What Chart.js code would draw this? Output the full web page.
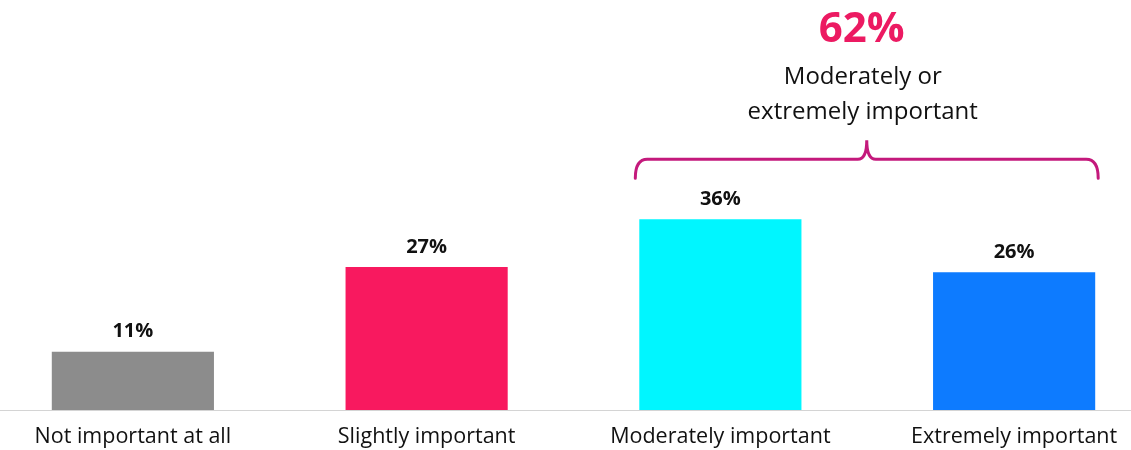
<!DOCTYPE html>
<html>
<head>
<meta charset="utf-8">
<script src="https://cdn.jsdelivr.net/npm/chart.js@4"></script>
<style>
  html, body { margin: 0; padding: 0; background: #ffffff; }
  #wrap { position: relative; width: 1131px; height: 450px; overflow: hidden; background: #fff; }
  #box { position: absolute; left: -14px; top: 0; width: 1175px; height: 450px; }
</style>
</head>
<body>
<div id="wrap"><div id="box"><canvas id="c"></canvas></div></div>
<script>
const categories = ["Not important at all", "Slightly important", "Moderately important", "Extremely important"];
const values = [11, 27, 36, 26];
const barColors = ["#8c8c8c", "#f8195f", "#00f6ff", "#0d7bff"];
const bracketTotal = "62%";
const bracketCaption = ["Moderately or", "extremely important"];
const bracketBars = [2, 3];

const valueLabels = {
  id: 'valueLabels',
  afterDatasetsDraw(chart) {
    const ctx = chart.ctx;
    const meta = chart.getDatasetMeta(0);
    ctx.save();
    ctx.font = "bold 20px 'Open Sans'";
    ctx.fillStyle = "#111111";
    ctx.textAlign = "center";
    ctx.textBaseline = "middle";
    meta.data.forEach((bar, i) => {
      ctx.fillText(values[i] + "%", bar.x, bar.y - 20);
    });
    ctx.restore();
  }
};

const bracket = {
  id: 'bracket',
  afterDatasetsDraw(chart) {
    const ctx = chart.ctx;
    const meta = chart.getDatasetMeta(0);
    const a = meta.data[bracketBars[0]], b = meta.data[bracketBars[1]];
    const left = a.x - a.width / 2 - 4;
    const right = b.x + b.width / 2 + 3;
    const topBar = Math.min(a.y, b.y);
    const yEnd = topBar - 41, yH = topBar - 60, yTip = topBar - 79;
    const mid = (left + right) / 2;
    const r = 12;
    ctx.save();
    ctx.strokeStyle = "#c4197c";
    ctx.lineWidth = 3;
    ctx.lineCap = "round";
    ctx.beginPath();
    ctx.moveTo(left, yEnd);
    ctx.quadraticCurveTo(left, yH, left + r, yH);
    ctx.lineTo(mid - 9, yH);
    ctx.quadraticCurveTo(mid, yH, mid, yTip);
    ctx.quadraticCurveTo(mid, yH, mid + 9, yH);
    ctx.lineTo(right - r, yH);
    ctx.quadraticCurveTo(right, yH, right, yEnd);
    ctx.stroke();

    ctx.textAlign = "center";
    ctx.textBaseline = "middle";
    ctx.fillStyle = "#ec1a62";
    ctx.font = "bold 42px 'Open Sans'";
    ctx.fillText(bracketTotal, mid - 5, topBar - 189);
    ctx.fillStyle = "#111111";
    ctx.font = "24px 'Open Sans'";
    ctx.fillText(bracketCaption[0], mid - 4, topBar - 142);
    ctx.fillText(bracketCaption[1], mid - 4, topBar - 107);
    ctx.restore();
  }
};

new Chart(document.getElementById('c'), {
  type: 'bar',
  data: {
    labels: categories,
    datasets: [{
      data: values,
      backgroundColor: barColors,
      borderWidth: 0,
      barPercentage: 0.552,
      categoryPercentage: 1
    }]
  },
  options: {
    responsive: true,
    maintainAspectRatio: false,
    animation: false,
    layout: { padding: { top: 39, bottom: 0, left: 0, right: 0 } },
    plugins: { legend: { display: false }, tooltip: { enabled: false } },
    scales: {
      x: {
        grid: { display: false, drawTicks: false },
        border: { display: true, color: "#d4d4d4", width: 1 },
        ticks: { color: "#111111", font: { family: "'Open Sans'", size: 21.5 }, padding: 14, maxRotation: 0, autoSkip: false },
        afterFit(scale) { scale.height = 40; }
      },
      y: {
        display: false,
        min: 0,
        max: 70
      }
    }
  },
  plugins: [valueLabels, bracket]
});
</script>
</body>
</html>
